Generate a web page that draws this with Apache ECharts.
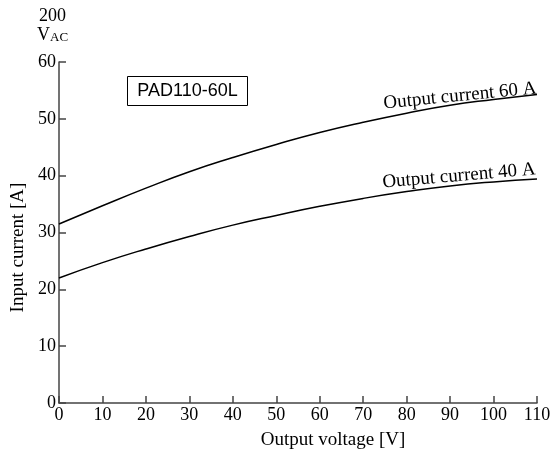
<!DOCTYPE html>
<html>
<head>
<meta charset="utf-8">
<script src="https://cdn.jsdelivr.net/npm/echarts@6/dist/echarts.min.js"></script>
<style>
  html, body { margin: 0; padding: 0; background: #fff; }
  #main { width: 553px; height: 457px; }
</style>
</head>
<body>
<div id="main"></div>
<script>
  // output voltage [V]
  var voltage = [0, 10, 20, 30, 40, 50, 60, 70, 80, 90, 100, 110];
  // input current [A] for each output current
  var current60A = [31.5, 34.7, 37.8, 40.7, 43.2, 45.5, 47.6, 49.4, 51.0, 52.4, 53.4, 54.3];
  var current40A = [22.0, 24.7, 27.1, 29.3, 31.3, 33.0, 34.6, 36.0, 37.2, 38.2, 38.9, 39.4];

  function pairs(ys) {
    return voltage.map(function (v, i) { return [v, ys[i]]; });
  }

  var serif = '"Liberation Serif", "DejaVu Serif", serif';
  var chart = echarts.init(document.getElementById('main'));

  chart.setOption({
    animation: false,
    grid: { left: 59, right: 16, top: 62, bottom: 54, outerBoundsMode: 'none', containLabel: false },
    xAxis: {
      type: 'value', min: 0, max: 110, interval: 10,
      name: 'Output voltage [V]', nameLocation: 'middle', nameGap: 28,
      nameTextStyle: { fontFamily: serif, fontSize: 19, color: '#000', padding: [0, 0, 0, 70] },
      axisLine: { show: true, lineStyle: { color: '#444', width: 1.5 } },
      axisTick: { show: true, inside: true, length: 7, lineStyle: { color: '#444', width: 1.5 } },
      axisLabel: { fontFamily: serif, fontSize: 18, color: '#000', margin: 3 },
      splitLine: { show: false }
    },
    yAxis: {
      type: 'value', min: 0, max: 60, interval: 10,
      name: 'Input current [A]', nameLocation: 'middle', nameGap: 31, nameRotate: 90,
      nameTextStyle: { fontFamily: serif, fontSize: 19, color: '#000', padding: [0, 30, 0, 0] },
      axisLine: { show: true, lineStyle: { color: '#444', width: 1.5 } },
      axisTick: { show: true, inside: true, length: 7, lineStyle: { color: '#444', width: 1.5 } },
      axisLabel: { fontFamily: serif, fontSize: 18, color: '#000', margin: 3 },
      splitLine: { show: false }
    },
    graphic: [
      {
        type: 'text', left: 39, top: 7,
        style: { text: '200', font: '18px ' + serif, fill: '#000' }
      },
      {
        type: 'text', left: 37, top: 26,
        style: {
          text: '{v|V}{ac|AC}',
          rich: {
            v: { fontFamily: serif, fontSize: 18, fill: '#000' },
            ac: { fontFamily: serif, fontSize: 13, fill: '#000', verticalAlign: 'bottom' }
          }
        }
      },
      {
        type: 'rect', shape: { x: 127.5, y: 76.5, width: 120, height: 29 },
        style: { fill: '#fff', stroke: '#000', lineWidth: 1 }
      },
      {
        type: 'text', x: 187.5, y: 91,
        style: {
          text: 'PAD110-60L', font: '18px "Liberation Sans", Arial, sans-serif',
          fill: '#000', align: 'center', verticalAlign: 'middle'
        }
      },
      {
        type: 'text', x: 460, y: 96, rotation: 5.7 * Math.PI / 180,
        style: {
          text: 'Output current 60 A', font: '19px ' + serif,
          fill: '#000', align: 'center', verticalAlign: 'middle'
        }
      },
      {
        type: 'text', x: 459, y: 176, rotation: 4.9 * Math.PI / 180,
        style: {
          text: 'Output current 40 A', font: '19px ' + serif,
          fill: '#000', align: 'center', verticalAlign: 'middle'
        }
      }
    ],
    series: [
      {
        name: '60 A', type: 'line', data: pairs(current60A), smooth: true,
        symbol: 'none', lineStyle: { color: '#000', width: 1.5 }
      },
      {
        name: '40 A', type: 'line', data: pairs(current40A), smooth: true,
        symbol: 'none', lineStyle: { color: '#000', width: 1.5 }
      }
    ]
  });
</script>
</body>
</html>
